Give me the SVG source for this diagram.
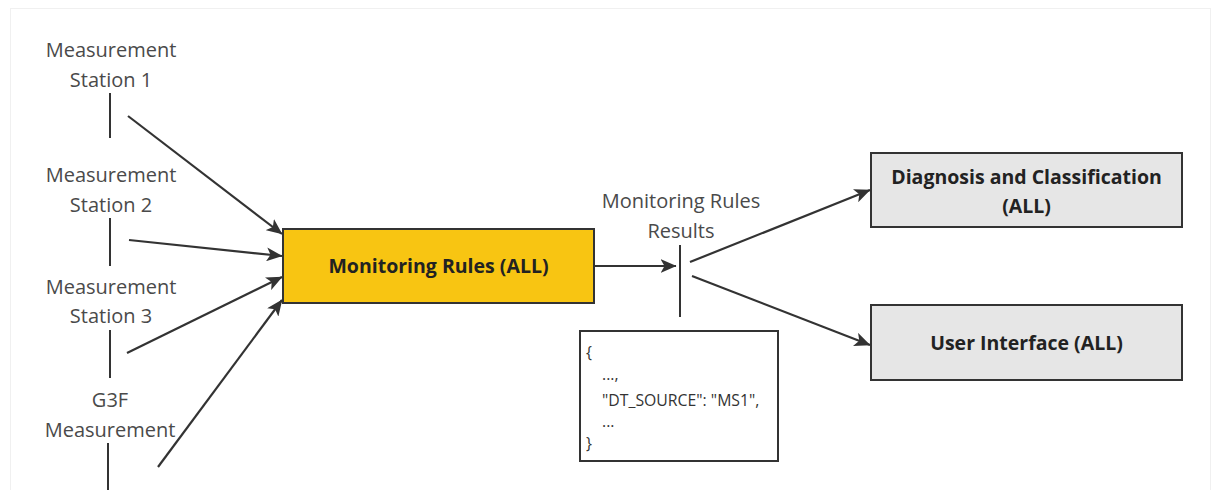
<svg xmlns="http://www.w3.org/2000/svg" width="1212" height="490" viewBox="0 0 1212 490">
  <defs>
    <style>
      .lbl { font-family: "Open Sans", "Liberation Sans", sans-serif; font-size: 20px; fill: #4a4a4a; text-anchor: middle; }
      .bold { font-family: "Open Sans", "Liberation Sans", sans-serif; font-size: 19.5px; font-weight: bold; fill: #222; text-anchor: middle; }
      .code { font-family: "Open Sans", "Liberation Sans", sans-serif; font-size: 15.8px; fill: #333; }
      .tick { stroke: #333; stroke-width: 2; }
      .edge { stroke: #333; stroke-width: 2.2; fill: none; marker-end: url(#arrow); }
      .box { stroke: #333; stroke-width: 2; }
    </style>
    <marker id="arrow" viewBox="0 0 16 14" refX="15.5" refY="7" markerWidth="16" markerHeight="14" markerUnits="userSpaceOnUse" orient="auto">
      <path d="M0,0 L16,7 L0,14 L4,7 Z" fill="#333"/>
    </marker>
  </defs>

  <rect x="0" y="0" width="1212" height="490" fill="#ffffff"/>
  <rect x="10.5" y="8.5" width="1200" height="490" fill="none" stroke="#f0f0f0" stroke-width="1"/>

  <!-- sources -->
  <g id="ms1">
    <text class="lbl" x="111" y="57">Measurement</text>
    <text class="lbl" x="111" y="87">Station 1</text>
    <line class="tick" x1="110" y1="93" x2="110" y2="138"/>
  </g>
  <g id="ms2">
    <text class="lbl" x="111" y="182">Measurement</text>
    <text class="lbl" x="111" y="212">Station 2</text>
    <line class="tick" x1="110" y1="218" x2="110" y2="266"/>
  </g>
  <g id="ms3">
    <text class="lbl" x="111" y="294">Measurement</text>
    <text class="lbl" x="111" y="323">Station 3</text>
    <line class="tick" x1="110" y1="330" x2="110" y2="378"/>
  </g>
  <g id="g3f">
    <text class="lbl" x="110" y="407">G3F</text>
    <text class="lbl" x="110" y="437">Measurement</text>
    <line class="tick" x1="108" y1="443" x2="108" y2="490"/>
  </g>

  <!-- processing -->
  <g id="rules">
    <rect class="box" x="283" y="229" width="311" height="74" fill="#f8c512"/>
    <text class="bold" x="438.5" y="273">Monitoring Rules (ALL)</text>
  </g>

  <g id="results">
    <text class="lbl" x="681" y="208">Monitoring Rules</text>
    <text class="lbl" x="681" y="238">Results</text>
    <line class="tick" x1="680" y1="245" x2="680" y2="317"/>
  </g>

  <g id="payload">
    <rect class="box" x="580" y="331" width="198" height="130" fill="#ffffff"/>
    <text class="code" x="586" y="358">{</text>
    <text class="code" x="602" y="380">...,</text>
    <text class="code" x="602" y="406">"DT_SOURCE": "MS1",</text>
    <text class="code" x="602" y="427">...</text>
    <text class="code" x="586" y="449">}</text>
  </g>

  <!-- consumers -->
  <g id="diagnosis">
    <rect class="box" x="871" y="153" width="311" height="74" fill="#e6e6e6"/>
    <text class="bold" x="1026.5" y="184">Diagnosis and Classification</text>
    <text class="bold" x="1026.5" y="213">(ALL)</text>
  </g>
  <g id="ui">
    <rect class="box" x="871" y="305" width="311" height="75" fill="#e6e6e6"/>
    <text class="bold" x="1026.5" y="350">User Interface (ALL)</text>
  </g>

  <!-- connectors -->
  <g id="connectors">
    <line class="edge" x1="128" y1="116" x2="282" y2="234"/>
    <line class="edge" x1="129" y1="240" x2="282" y2="256"/>
    <line class="edge" x1="127" y1="353" x2="282" y2="277"/>
    <line class="edge" x1="158" y1="467" x2="282" y2="300"/>
    <line class="edge" x1="594" y1="266" x2="676" y2="266"/>
    <line class="edge" x1="690" y1="262" x2="870" y2="190"/>
    <line class="edge" x1="692" y1="276" x2="870" y2="345"/>
  </g>
</svg>
